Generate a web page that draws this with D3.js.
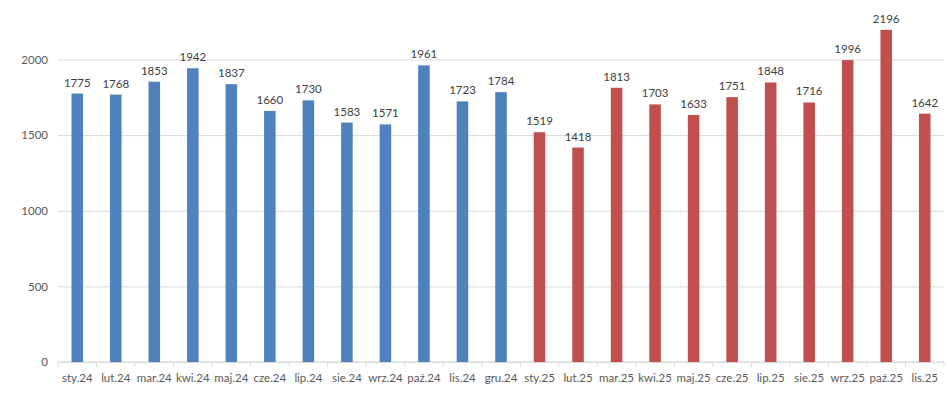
<!DOCTYPE html>
<html>
<head>
<meta charset="utf-8">
<script src="https://cdn.jsdelivr.net/npm/d3@7"></script>
<style>
  body { margin: 0; background: #fff; }
  svg text { font-family: Lato, "Liberation Sans", sans-serif; }
  .axis path { display: none; }
  .axis line { stroke: #d9d9d9; }
  .axis text { fill: #595959; font-size: 11.5px; }
  .val { fill: #404040; font-size: 11.5px; }
</style>
</head>
<body>
<div id="chart"></div>
<script>
const months = ['sty.24','lut.24','mar.24','kwi.24','maj.24','cze.24','lip.24','sie.24','wrz.24','paź.24','lis.24','gru.24',
  'sty.25','lut.25','mar.25','kwi.25','maj.25','cze.25','lip.25','sie.25','wrz.25','paź.25','lis.25']
const values = [1775,1768,1853,1942,1837,1660,1730,1583,1571,1961,1723,1784,
  1519,1418,1813,1703,1633,1751,1848,1716,1996,2196,1642]
const years = months.map(m => m.slice(-2))
const yTicks = [0,500,1000,1500,2000]
const colors = {'24': '#4f81bd', '25': '#c0504d'}

const width = 948, height = 402
const margin = {left: 58, right: 4, top: 0, bottom: 40}
const baseY = 362

let svg = d3.select('#chart').append('svg')
  .attr('width', width)
  .attr('height', height)

let x = d3.scaleBand()
  .domain(months)
  .range([margin.left, width - margin.right])
  .paddingInner(0.7)
  .paddingOuter(0.35)

let y = d3.scaleLinear()
  .domain([0, 2000])
  .range([baseY, 59.5])

// gridlines
svg.append('g')
  .attr('class', 'axis')
  .attr('transform', 'translate(' + margin.left + ',0)')
  .call(d3.axisLeft(y).tickValues(yTicks).tickFormat(d3.format('d'))
    .tickSize(-(width - margin.right - margin.left)).tickPadding(10))

// x axis with ticks between categories
let bandStep = x.step()
let xAxis = svg.append('g')
  .attr('transform', 'translate(0,' + baseY + ')')

xAxis.append('line')
  .attr('x1', margin.left).attr('x2', width - margin.right)
  .attr('stroke', '#d9d9d9')

xAxis.selectAll('line.tk')
  .data(d3.range(months.length + 1))
  .enter()
  .append('line')
  .attr('class', 'tk')
  .attr('x1', i => margin.left + i * bandStep)
  .attr('x2', i => margin.left + i * bandStep)
  .attr('y1', 0).attr('y2', 5)
  .attr('stroke', '#d9d9d9')

xAxis.selectAll('text')
  .data(months)
  .enter()
  .append('text')
  .attr('x', d => x(d) + x.bandwidth() / 2)
  .attr('y', 20)
  .attr('text-anchor', 'middle')
  .attr('fill', '#595959')
  .style('font-size', '11.5px')
  .text(d => d)

// bars
svg.append('g')
  .selectAll('rect')
  .data(values)
  .enter()
  .append('rect')
  .attr('x', (d, i) => x(months[i]))
  .attr('y', d => y(d))
  .attr('width', x.bandwidth())
  .attr('height', d => y(0) - y(d))
  .attr('fill', (d, i) => colors[years[i]])

svg.append('g')
  .selectAll('text')
  .data(values)
  .enter()
  .append('text')
  .attr('class', 'val')
  .attr('x', (d, i) => x(months[i]) + x.bandwidth() / 2)
  .attr('y', d => y(d) - 7)
  .attr('text-anchor', 'middle')
  .text(d => d)
</script>
</body>
</html>
